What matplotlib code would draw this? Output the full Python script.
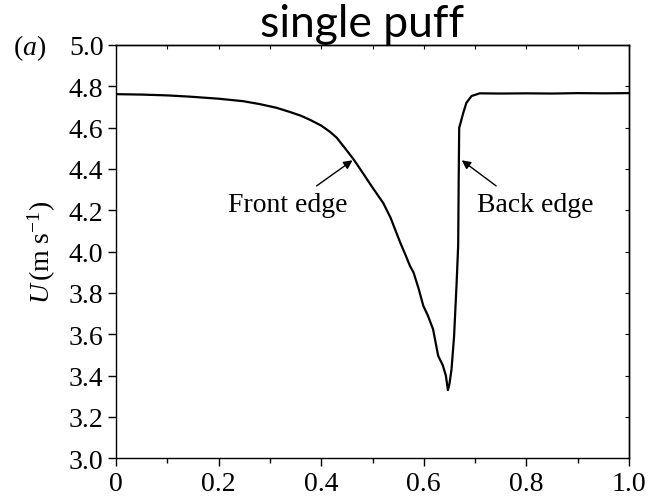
import matplotlib
matplotlib.use("Agg")
import matplotlib.pyplot as plt
from matplotlib.ticker import MultipleLocator, NullFormatter

plt.rcParams.update({
    "font.family": "Liberation Serif",
    "mathtext.fontset": "custom",
    "mathtext.rm": "Liberation Serif",
    "mathtext.it": "Liberation Serif:italic",
    "axes.linewidth": 1.0,
})

# streamwise position (normalised) and velocity U (m/s) along the puff
position = [0.000, 0.050, 0.100, 0.144, 0.200, 0.248, 0.280, 0.313, 0.340,
            0.360, 0.378, 0.400, 0.417, 0.430, 0.445, 0.463, 0.480, 0.500,
            0.521, 0.535, 0.544, 0.554, 0.565, 0.573, 0.580, 0.590, 0.599,
            0.608, 0.618, 0.628, 0.637, 0.643, 0.647, 0.650, 0.654, 0.659,
            0.664, 0.667, 0.668, 0.669, 0.670, 0.677, 0.683, 0.693, 0.709,
            0.750, 0.800, 0.850, 0.900, 0.950, 1.000]
velocity = [4.762, 4.760, 4.756, 4.750, 4.740, 4.728, 4.714, 4.696, 4.675,
            4.658, 4.638, 4.610, 4.580, 4.552, 4.505, 4.447, 4.385, 4.310,
            4.235, 4.165, 4.108, 4.044, 3.980, 3.931, 3.899, 3.820, 3.738,
            3.690, 3.625, 3.496, 3.450, 3.400, 3.330, 3.360, 3.430, 3.590,
            3.850, 4.030, 4.350, 4.600, 4.608, 4.672, 4.720, 4.753, 4.766,
            4.765, 4.766, 4.765, 4.767, 4.766, 4.767]

x_ticks = [0.0, 0.2, 0.4, 0.6, 0.8, 1.0]
x_labels = ["0", "0.2", "0.4", "0.6", "0.8", "1.0"]
y_ticks = [3.0, 3.2, 3.4, 3.6, 3.8, 4.0, 4.2, 4.4, 4.6, 4.8, 5.0]
y_labels = ["%.1f" % v for v in y_ticks]

fig = plt.figure(figsize=(6.48, 5.02), dpi=100)
ax = fig.add_axes([0.179, 0.0851, 0.7917, 0.8233])

ax.plot(position, velocity, color="black", lw=1.6)

ax.set_xlim(0, 1)
ax.set_ylim(3, 5)
ax.set_xticks(x_ticks, x_labels)
ax.set_yticks(y_ticks, y_labels)
ax.xaxis.set_minor_locator(MultipleLocator(0.1))
ax.tick_params(axis="both", which="major", direction="out", length=6,
               width=1, labelsize=20, pad=3, colors="black")
ax.tick_params(axis="x", which="minor", direction="out", length=3.5, width=1)

# small inward ticks on the top and right frame
top = ax.secondary_xaxis("top")
top.set_xticks([i / 10 for i in range(11)])
top.xaxis.set_major_formatter(NullFormatter())
top.tick_params(direction="in", length=3, width=0.8)
right = ax.secondary_yaxis("right")
right.set_yticks(y_ticks)
right.yaxis.set_major_formatter(NullFormatter())
right.tick_params(direction="in", length=3, width=0.8)

ax.set_ylabel(r"$U\,(\mathrm{m\ s^{-1}})$", fontsize=20)
ax.yaxis.set_label_coords(-0.113, 0.5)

# edge annotations
ax.annotate("", xy=(0.461, 4.442), xytext=(0.391, 4.318),
            arrowprops=dict(arrowstyle="-|>", color="black", lw=1.0,
                            mutation_scale=13, shrinkA=0, shrinkB=0))
ax.text(0.334, 4.229, "Front edge", fontsize=20, ha="center", va="center")
ax.annotate("", xy=(0.674, 4.442), xytext=(0.741, 4.318),
            arrowprops=dict(arrowstyle="-|>", color="black", lw=1.0,
                            mutation_scale=13, shrinkA=0, shrinkB=0))
ax.text(0.817, 4.229, "Back edge", fontsize=20, ha="center", va="center")

fig.text(0.0196, 1 - 48 / 502, r"($a$)", fontsize=20, ha="left", va="center")
fig.text(362 / 648, 1 - 37 / 502, "single puff", family="Lato", fontsize=32,
         ha="center", va="baseline")

fig.savefig("out.png", dpi=100)
